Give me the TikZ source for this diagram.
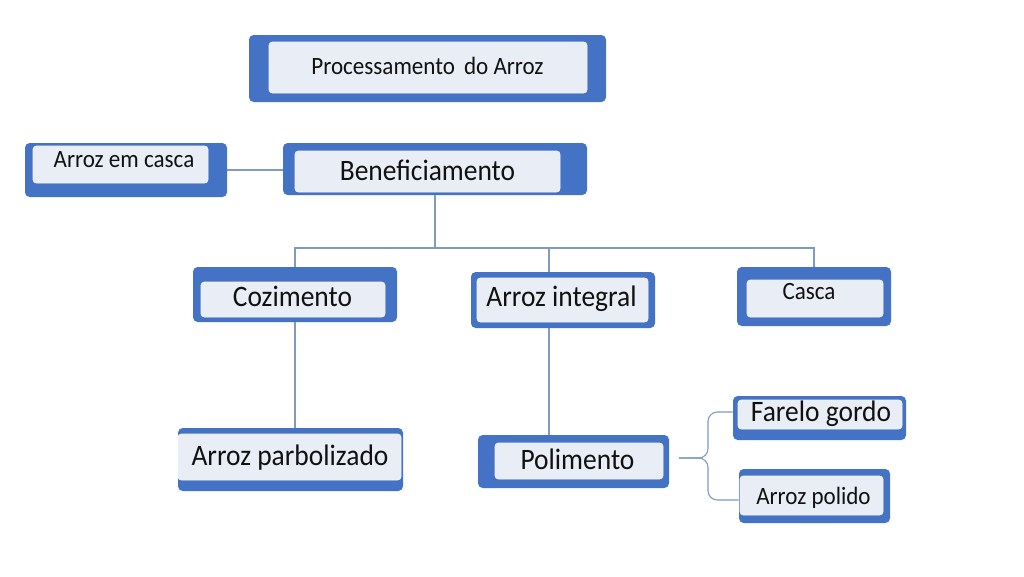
\documentclass[tikz,border=0pt]{standalone}
\usepackage{fontspec}
\usepackage{graphicx}
\setmainfont{Carlito}
\usetikzlibrary{fit}
\definecolor{boxblue}{HTML}{4472C4}
\definecolor{boxfill}{HTML}{E9EDF5}
\definecolor{linecol}{RGB}{127,155,192}
\definecolor{txt}{HTML}{111111}
\newcommand\dbox[9]{%
  \node[outerbox, fit={(#2,#3) (#4,#5)}] (#1) {};
  \node[innerbox, fit={(#6,#7) (#8,#9)}] (#1-in) {};
}
\newcommand\tallt[1]{\scalebox{1}[1.08]{#1}}
\tikzset{
  outerbox/.style={fill=boxblue, rounded corners=3.5pt, inner sep=0pt, draw=none},
  innerbox/.style={fill=boxfill, rounded corners=2.5pt, inner sep=0pt, draw=white!50!boxfill, line width=0.5pt},
  smalltxt/.style={font=\fontsize{17.3}{20}\selectfont, text=txt, inner sep=0pt, anchor=base},
  bigtxt/.style={font=\fontsize{20.6}{24}\selectfont, text=txt, inner sep=0pt, anchor=base},
  conn/.style={draw=linecol, line width=0.8pt}
}
\begin{document}
\begin{tikzpicture}[x=0.75pt, y=-0.75pt]
\fill[white] (0,0) rectangle (1024,576);
\useasboundingbox (0,0) rectangle (1024,576);

\dbox{proc}{249}{35}{606}{102}{269}{42}{587}{93}
\node[smalltxt] (proc-t) at (427.5,74) {\tallt{Processamento\ \,do Arroz}};

\dbox{acasca}{25}{143}{227}{197}{33}{146}{208}{183}
\node[smalltxt] (acasca-t) at (124,167.5) {\tallt{Arroz em casca}};

\dbox{benef}{283}{143}{587}{195}{295}{151}{560}{192}
\node[bigtxt] (benef-t) at (427.5,180) {\tallt{Beneficiamento}};

\dbox{coz}{193}{267}{397}{322}{201}{282}{385}{317}
\node[bigtxt] (coz-t) at (292.5,306.5) {\tallt{Cozimento}};

\dbox{integ}{471}{272}{655}{328}{477}{278}{648}{322}
\node[bigtxt] (integ-t) at (561.5,306.5) {\tallt{Arroz integral}};

\dbox{casca}{737}{267}{891}{326}{747}{280}{883}{317}
\node[smalltxt] (casca-t) at (809,299) {\tallt{Casca}};

\dbox{parb}{178}{428}{403}{491}{178}{434}{401}{480}
\node[bigtxt] (parb-t) at (290,465) {\tallt{Arroz parbolizado}};

\dbox{polim}{478}{435}{669}{488}{495}{443}{663}{479}
\node[bigtxt] (polim-t) at (577.5,469) {\tallt{Polimento}};

\dbox{farelo}{733}{396}{906}{440}{738}{400}{902}{429}
\node[bigtxt] (farelo-t) at (821,421.5) {\tallt{Farelo gordo}};

\dbox{apol}{739}{469}{890}{523}{740}{476}{883}{515}
\node[smalltxt] (apol-t) at (813.5,504) {\tallt{Arroz polido}};

% connectors
\draw[conn] (acasca.east) -- (acasca.east -| benef.west);
\coordinate (bus) at (0,248);
\coordinate (ix) at (549,0);
\draw[conn] (benef.south) -- (benef.south |- bus);
\draw[conn] (coz.north) -- (coz.north |- bus) -- (casca.north |- bus) -- (casca.north);
\draw[conn] (ix |- bus) -- (ix |- integ.north);
\draw[conn] (coz.south) -- (coz.south |- parb.north);
\draw[conn] (ix |- integ.south) -- (ix |- polim.north);

% brace
\coordinate (bs) at (679,458);
\coordinate (br) at (708,458);
\coordinate (bt) at (708,412);
\coordinate (bb) at (708,500);
\draw[conn, rounded corners=7pt] (bs) -- (br) -- (bt) -- (bt -| farelo.west);
\draw[conn, rounded corners=7pt] (bs) -- (br) -- (bb) -- (bb -| apol.west);
\end{tikzpicture}
\end{document}
